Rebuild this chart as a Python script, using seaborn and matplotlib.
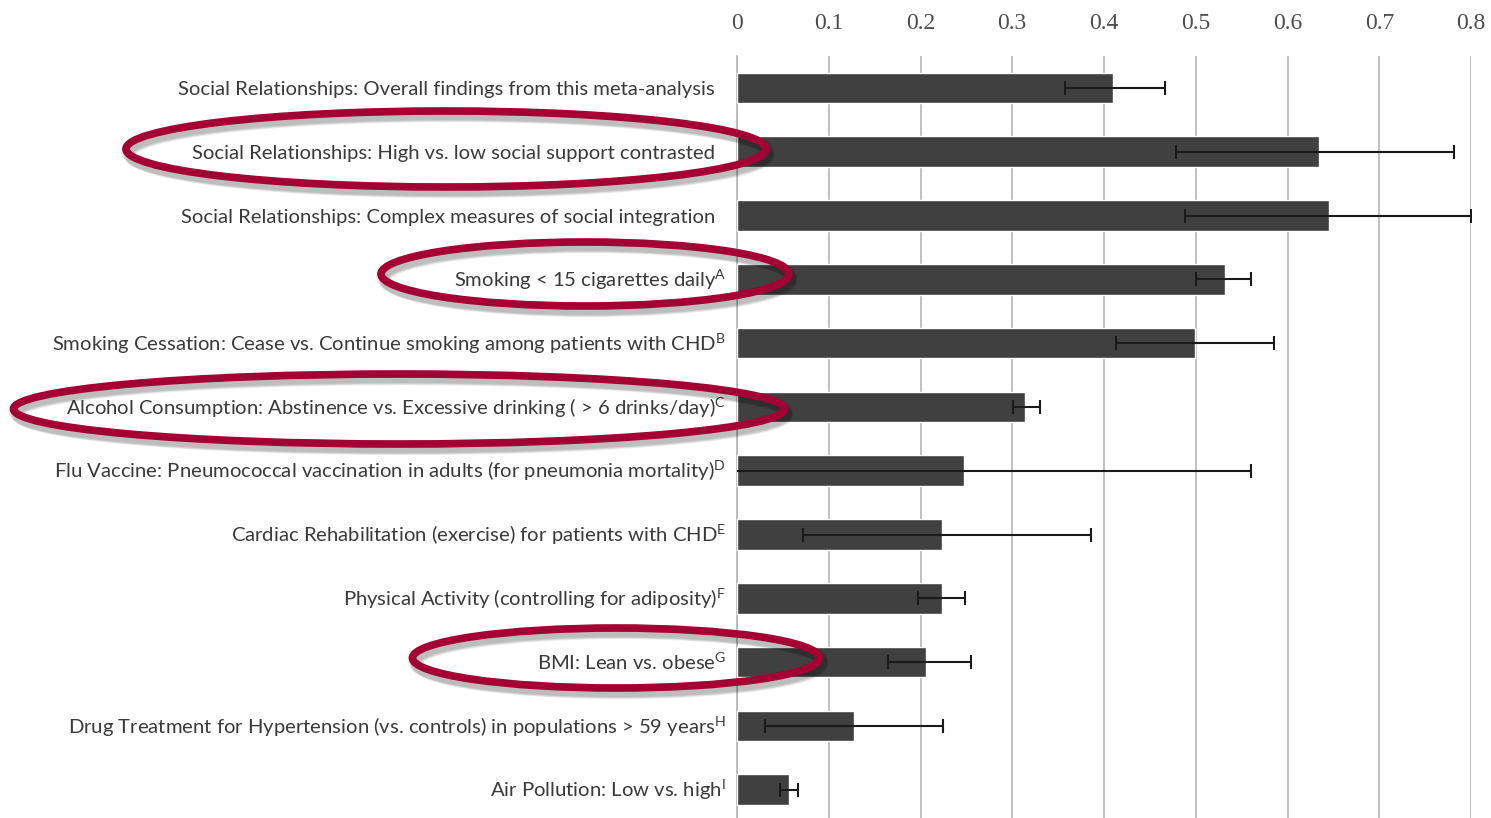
import matplotlib
matplotlib.use("Agg")
import matplotlib.pyplot as plt
import pandas as pd
import seaborn as sns
from matplotlib.patches import Ellipse
from matplotlib import patheffects as pe
from matplotlib.transforms import offset_copy

# Mortality risk factors (log odds ratio with 95% CI)
factors = [
    "Social Relationships: Overall findings from this meta-analysis",
    "Social Relationships: High vs. low social support contrasted",
    "Social Relationships: Complex measures of social integration",
    "Smoking < 15 cigarettes daily",
    "Smoking Cessation: Cease vs. Continue smoking among patients with CHD",
    "Alcohol Consumption: Abstinence vs. Excessive drinking ( > 6 drinks/day)",
    "Flu Vaccine: Pneumococcal vaccination in adults (for pneumonia mortality)",
    "Cardiac Rehabilitation (exercise) for patients with CHD",
    "Physical Activity (controlling for adiposity)",
    "BMI: Lean vs. obese",
    "Drug Treatment for Hypertension (vs. controls) in populations > 59 years",
    "Air Pollution: Low vs. high",
]
notes = ["", "", "", "A", "B", "C", "D", "E", "F", "G", "H", "I"]
effect = [0.410, 0.634, 0.645, 0.532, 0.499, 0.314, 0.247, 0.223, 0.223, 0.206, 0.127, 0.057]
ci_low = [0.357, 0.479, 0.488, 0.500, 0.413, 0.301, -0.030, 0.072, 0.197, 0.165, 0.030, 0.047]
ci_high = [0.466, 0.781, 0.800, 0.560, 0.585, 0.330, 0.560, 0.386, 0.248, 0.255, 0.224, 0.067]
x_ticks = [0, 0.1, 0.2, 0.3, 0.4, 0.5, 0.6, 0.7, 0.8]
x_tick_labels = ["0", "0.1", "0.2", "0.3", "0.4", "0.5", "0.6", "0.7", "0.8"]

df = pd.DataFrame({"factor": factors, "effect": effect,
                   "low": ci_low, "high": ci_high})

sns.set_style("white")
plt.rcParams["font.family"] = ["Lato", "DejaVu Sans"]
plt.rcParams["mathtext.default"] = "regular"

W, H = 1491, 818
fig = plt.figure(figsize=(W / 100, H / 100), dpi=100)
ax = fig.add_axes([737 / W, (H - 821.6) / H, 734 / W, 765.6 / H])

sns.barplot(data=df, x="effect", y="factor", orient="h", color="#404040",
            saturation=1, width=0.48, errorbar=None, ax=ax, zorder=3)

ypos = list(range(len(factors)))
ax.errorbar(df["effect"], ypos,
            xerr=[df["effect"] - df["low"], df["high"] - df["effect"]],
            fmt="none", ecolor="#1a1a1a", elinewidth=1.5, capsize=5,
            capthick=1.5, zorder=4)

ax.set_xlim(0, 0.8)
ax.set_ylim(len(factors) - 0.5, -0.5)
ax.xaxis.tick_top()
ax.set_xticks(x_ticks)
ax.set_xticklabels(x_tick_labels, family=["Liberation Serif", "DejaVu Serif"],
                   fontsize=17, color="#4d4d4d")
ax.tick_params(axis="x", length=0, pad=16)
ax.set_yticks(ypos)
ax.set_yticklabels([])
ax.tick_params(axis="y", length=0)
ax.grid(axis="x", color="#b0b0b0", linewidth=1.1, zorder=0)
ax.set_axisbelow(True)
ax.set_xlabel("")
ax.set_ylabel("")
for side in ["top", "right", "bottom"]:
    ax.spines[side].set_visible(False)
ax.spines["left"].set_color("#b0b0b0")
ax.spines["left"].set_linewidth(1.1)

# category labels, right-aligned beside the axis; footnote letters as superscripts
ytrans = ax.get_yaxis_transform()
with_note = offset_copy(ytrans, fig=fig, x=-11, y=-7.5, units="dots")
without_note = offset_copy(ytrans, fig=fig, x=-22, y=-7.5, units="dots")
label_texts = []
for y, name, note in zip(ypos, factors, notes):
    s = name + ("$^{" + note + "}$" if note else "")
    t = ax.text(0, y, s, ha="right", va="baseline", fontsize=14, color="#3a3a3a",
                transform=with_note if note else without_note)
    label_texts.append(t)

# size the category labels so the first label spans its row
fig.canvas.draw()
renderer = fig.canvas.get_renderer()
w0 = label_texts[0].get_window_extent(renderer).width
size = 14 * 538 / w0
for t in label_texts:
    t.set_fontsize(size)

# highlight rings around selected factors (pixel geometry, origin top-left)
rings = [(446, 149, 640, 76), (585, 274, 408, 64),
         (399, 409, 771, 70), (616, 658, 407, 60)]
shadow = [pe.SimpleLineShadow(offset=(dx, -dy), shadow_color="k", alpha=0.07, linewidth=lw)
          for dx, dy, lw in [(1, 2, 9), (2, 3, 8), (2, 4, 7), (3, 5, 6)]]
for cx, cy, w, h in rings:
    e = Ellipse((cx / W, 1 - cy / H), w / W, h / H, transform=fig.transFigure,
                fill=False, edgecolor="#a50034", linewidth=5.5, zorder=10,
                path_effects=shadow + [pe.Normal()])
    fig.patches.append(e)

fig.savefig("out.png", dpi=100)
